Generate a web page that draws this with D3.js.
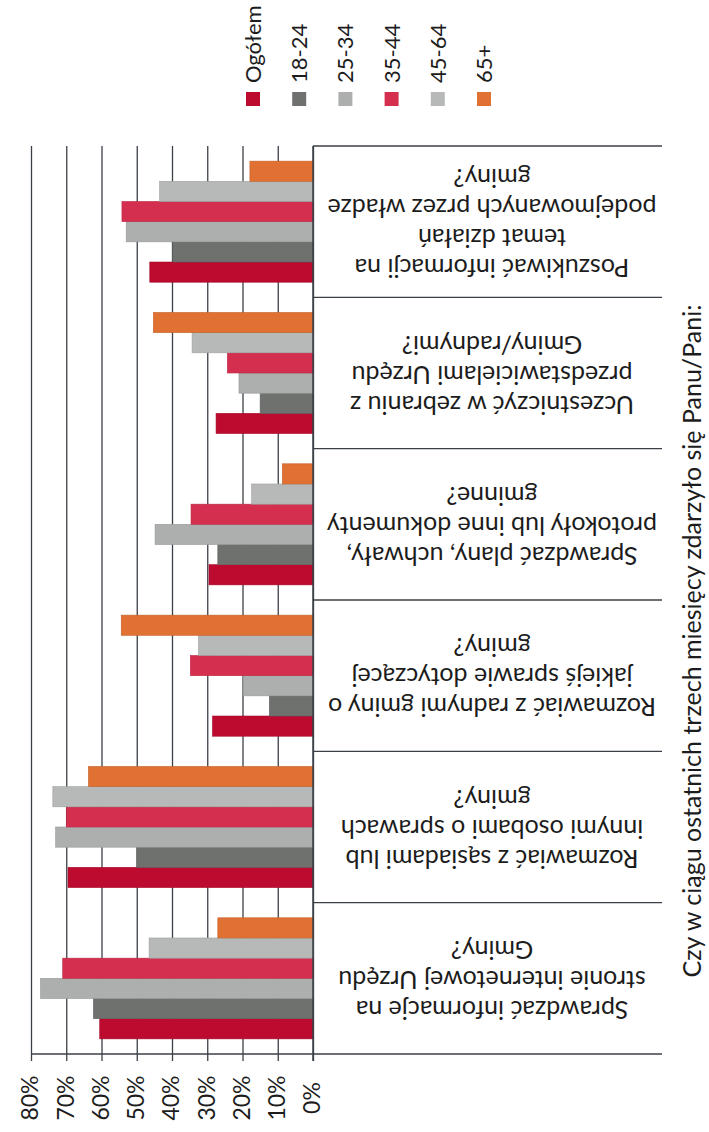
<!DOCTYPE html>
<meta charset="utf-8">
<style>
  body {
    margin: 0;
    background: #fff;
    font-family: Lato, "Open Sans", sans-serif;
  }
  svg { display: block; }
  .grid line { stroke: #3b4047; stroke-width: 1.3; }
  .grid path { display: none; }
  .lbl { fill: #1c1c1c; }
</style>
<body>
<div id="chart"></div>
<script src="https://cdnjs.cloudflare.com/ajax/libs/d3/7.8.5/d3.min.js"></script>
<script>

// categories, first one is drawn at the bottom
var categories = ["q1", "q2", "q3", "q4", "q5", "q6"];
var categoryLabels = [
  ["Sprawdzać informacje na", "stronie internetowej Urzędu", "Gminy?"],
  ["Rozmawiać z sąsiadami lub", "innymi osobami o sprawach", "gminy?"],
  ["Rozmawiać z radnymi gminy o", "jakiejś sprawie dotyczącej", "gminy?"],
  ["Sprawdzać plany, uchwały,", "protokoły lub inne dokumenty", "gminne?"],
  ["Uczestniczyć w zebraniu z", "przedstawicielami Urzędu", "Gminy/radnymi?"],
  ["Poszukiwać informacji na", "temat działań", "podejmowanych przez władze", "gminy?"]
];
var series = ["Ogółem", "18-24", "25-34", "35-44", "45-64", "65+"];
var colors = ["#bd0a2f", "#6f716f", "#adafaf", "#d42f4f", "#b7b9b9", "#e07132"];

// values in %, one array per series, in category order
var ogolem = [60.5, 69.5, 28.5, 29.5, 27.5, 46.3];
var age1824 = [62.3, 50.0, 12.4, 27.0, 15.0, 39.8];
var age2534 = [77.3, 73.0, 19.8, 44.8, 21.0, 53.0];
var age3544 = [71.0, 70.0, 34.8, 34.6, 24.3, 54.2];
var age4564 = [46.5, 73.8, 32.5, 17.4, 34.3, 43.5];
var age65 = [27.0, 63.7, 54.4, 8.7, 45.3, 17.9];
var values = [ogolem, age1824, age2534, age3544, age4564, age65];

var tickValues = [0, 10, 20, 30, 40, 50, 60, 70, 80];
var axisTitle = "Czy w ciągu ostatnich trzech miesięcy zdarzyło się Panu/Pani:";

var width = 709, height = 1132;
var plotTop = 146, plotBottom = 1054;
var boxRight = 662;

var svg = d3.select("#chart").append("svg")
  .attr("width", width)
  .attr("height", height);

// value scale runs right to left (page is turned on its side)
var x = d3.scaleLinear().domain([0, 80]).range([313, 31]);

var y0 = d3.scaleBand()
  .domain(categories.slice().reverse())
  .range([plotTop, plotBottom]);

var y1 = d3.scaleBand()
  .domain(series.slice().reverse())
  .range([0, y0.bandwidth()])
  .paddingOuter(0.75);

var color = d3.scaleOrdinal().domain(series).range(colors);

// gridlines + ticks below the axis
svg.append("g")
  .attr("class", "grid")
  .attr("transform", "translate(0," + plotBottom + ")")
  .call(d3.axisBottom(x).tickValues(tickValues).tickSizeInner(-(plotBottom - plotTop)).tickSizeOuter(0).tickFormat(""));

svg.append("g")
  .attr("class", "grid")
  .attr("transform", "translate(0," + plotBottom + ")")
  .call(d3.axisBottom(x).tickValues(tickValues).tickSizeInner(7).tickSizeOuter(0).tickFormat(""));

// bars
var rows = [];
categories.forEach(function(c, i) {
  series.forEach(function(s, j) {
    rows.push({cat: c, key: s, value: values[j][i]});
  });
});

svg.append("g").selectAll("rect")
  .data(rows)
  .enter().append("rect")
  .attr("x", function(d) { return x(d.value); })
  .attr("y", function(d) { return y0(d.cat) + y1(d.key); })
  .attr("width", function(d) { return x(0) - x(d.value); })
  .attr("height", y1.bandwidth())
  .attr("fill", function(d) { return color(d.key); })
  .attr("stroke", function(d) { return d3.color(color(d.key)).darker(0.4); })
  .attr("stroke-width", 0.6);

// axis lines and category boxes
svg.append("line")
  .attr("x1", x(80)).attr("x2", boxRight)
  .attr("y1", plotBottom).attr("y2", plotBottom)
  .attr("stroke", "#3b4047").attr("stroke-width", 1.5);

svg.append("line")
  .attr("x1", x(0)).attr("x2", x(0))
  .attr("y1", plotTop).attr("y2", plotBottom + 7)
  .attr("stroke", "#3b4047").attr("stroke-width", 1.5);

svg.append("g").selectAll("line")
  .data(categories)
  .enter().append("line")
  .attr("x1", x(0)).attr("x2", boxRight)
  .attr("y1", function(d) { return y0(d); })
  .attr("y2", function(d) { return y0(d); })
  .attr("stroke", "#3b4047").attr("stroke-width", 1.3);

// category labels, printed upside down
var labelX = 492, lineH = 30;
var lab = svg.append("g").selectAll("g")
  .data(categories)
  .enter().append("g")
  .attr("transform", function(d) {
    return "translate(" + labelX + "," + (y0(d) + y0.bandwidth() / 2) + ") rotate(180)";
  });

lab.each(function(d, i) {
  var lines = categoryLabels[i];
  d3.select(this).selectAll("text")
    .data(lines)
    .enter().append("text")
    .attr("class", "lbl")
    .attr("text-anchor", "middle")
    .attr("y", function(t, k) { return (k - (lines.length - 1) / 2) * lineH; })
    .attr("dy", "0.3em")
    .style("font-size", "25px")
    .text(function(t) { return t; });
});

// value tick labels
svg.append("g").selectAll("text")
  .data(tickValues)
  .enter().append("text")
  .attr("class", "lbl")
  .attr("transform", function(d) { return "translate(" + (x(d) - 1) + ",1098) rotate(-90)"; })
  .attr("text-anchor", "middle")
  .attr("dy", "0.36em")
  .style("font-size", "23px")
  .text(function(d) { return d + "%"; });

// axis title (baseline sits near the right edge)
svg.append("text")
  .attr("class", "lbl")
  .attr("transform", "translate(701,641) rotate(-90)")
  .attr("text-anchor", "middle")
  .style("font-size", "25px")
  .text(axisTitle);

// legend
var legend = svg.append("g").selectAll("g")
  .data(series)
  .enter().append("g")
  .attr("transform", function(d, i) { return "translate(" + (253 + i * 46.2) + ",0)"; });

legend.append("rect")
  .attr("x", -7).attr("y", 92)
  .attr("width", 14).attr("height", 14)
  .attr("fill", function(d) { return color(d); });

legend.append("text")
  .attr("class", "lbl")
  .attr("transform", "translate(0,83) rotate(-90)")
  .attr("dy", "0.36em")
  .style("font-size", "22px")
  .text(function(d) { return d; });

</script>
</body>
